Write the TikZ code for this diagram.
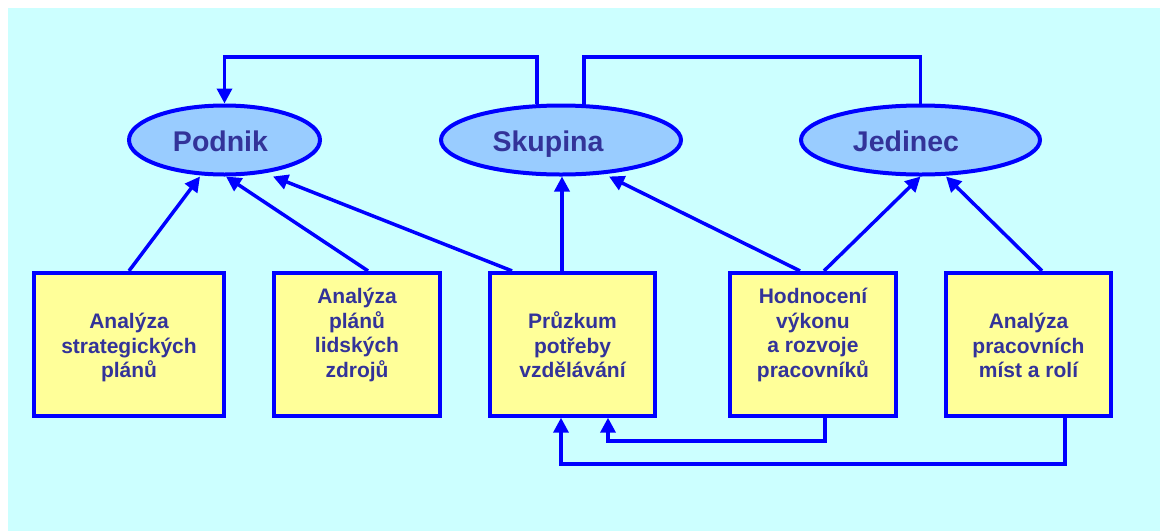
\documentclass[tikz,border=0pt]{standalone}
\usepackage{fontspec}
\setmainfont{Liberation Sans}
\usetikzlibrary{arrows.meta,shapes.geometric,backgrounds}
\definecolor{bgcyan}{HTML}{CCFFFF}
\definecolor{ovalfill}{HTML}{99CCFF}
\definecolor{boxfill}{HTML}{FFFF99}
\definecolor{edge}{HTML}{0000FF}
\definecolor{ink}{HTML}{333399}

\begin{document}
\begin{tikzpicture}[x=1pt,y=-1pt,
  oval/.style={ellipse, draw=edge, fill=ovalfill, line width=4pt,
    minimum height=69pt, inner sep=0pt},
  stepbox/.style={rectangle, draw=edge, fill=boxfill, line width=3.8pt,
    minimum height=143pt, inner sep=0pt},
  ovaltext/.style={font=\fontsize{28.5}{34}\selectfont\bfseries, text=ink,
    anchor=base, inner sep=0pt},
  boxtext/.style={font=\fontsize{21}{24.6}\selectfont\bfseries, text=ink,
    align=center, anchor=base, inner sep=0pt},
  link/.style={draw=edge, line width=3.5pt},
  headed/.style={-{Triangle[length=15pt,width=15pt]}}
]
\useasboundingbox (0,0) rectangle (1160,531);

% levels
\node[oval, minimum width=191pt] (e1) at (224.5,140) {};
\node[oval, minimum width=240pt] (e2) at (561,140) {};
\node[oval, minimum width=239pt] (e3) at (920.5,140) {};
\node[ovaltext] (l1) at (220.5,151.5) {Podnik};
\node[ovaltext] (l2) at (548,151.5) {Skupina};
\node[ovaltext] (l3) at (906,151.5) {Jedinec};

% sources (text anchored on the baseline of the last line)
\node[stepbox, minimum width=190pt] (b1) at (129,344.3) {};
\node[stepbox, minimum width=166pt] (b2) at (357,344.3) {};
\node[stepbox, minimum width=165pt] (b3) at (572.5,344.3) {};
\node[stepbox, minimum width=166pt] (b4) at (813,344.3) {};
\node[stepbox, minimum width=165pt] (b5) at (1028.5,344.3) {};
\node[boxtext] (t1) at (129,377.8) {Analýza\\strategických\\plánů};
\node[boxtext] (t2) at (357,377.3) {Analýza\\plánů\\lidských\\zdrojů};
\node[boxtext] (t3) at (572.5,377.8) {Průzkum\\potřeby\\vzdělávání};
\node[boxtext] (t4) at (813,377.3) {Hodnocení\\výkonu\\a rozvoje\\pracovníků};
\node[boxtext] (t5) at (1028.5,377.8) {Analýza\\pracovních\\míst a rolí};

\begin{scope}[on background layer]
  \fill[bgcyan] (8,8) rectangle (1160,531);

  % upward arrows
  \draw[link,headed] (b1.north) -- ([xshift=-24.5pt]e1.south);
  \draw[link,headed] ([xshift=11pt]b2.north) -- ([xshift=1.5pt]e1.south);
  \draw[link,headed] ([xshift=-60.5pt]b3.north) -- ([xshift=48.5pt]e1.south);
  \draw[link,headed] ([xshift=-10.5pt]b3.north) -- ([xshift=1pt]e2.south);
  \draw[link,headed] ([xshift=-13pt]b4.north) -- ([xshift=48pt]e2.south);
  \draw[link,headed] ([xshift=11pt]b4.north) -- (e3.south);
  \draw[link,headed] ([xshift=13.5pt]b5.north) -- ([xshift=25.5pt]e3.south);

  % links above the levels
  \draw[link,headed] ([xshift=-24pt]e2.north) -- ++(0,-46.5) -| (e1.north);
  \draw[link] ([xshift=23pt]e2.north) -- ++(0,-46.5) -| (e3.north);

  % feedback below the boxes
  \draw[link,headed] ([xshift=12pt]b4.south) -- ++(0,23.5) -| ([xshift=35.5pt]b3.south);
  \draw[link,headed] ([xshift=36.5pt]b5.south) -- ++(0,46.5) -| ([xshift=-11.5pt]b3.south);
\end{scope}
\end{tikzpicture}
\end{document}
